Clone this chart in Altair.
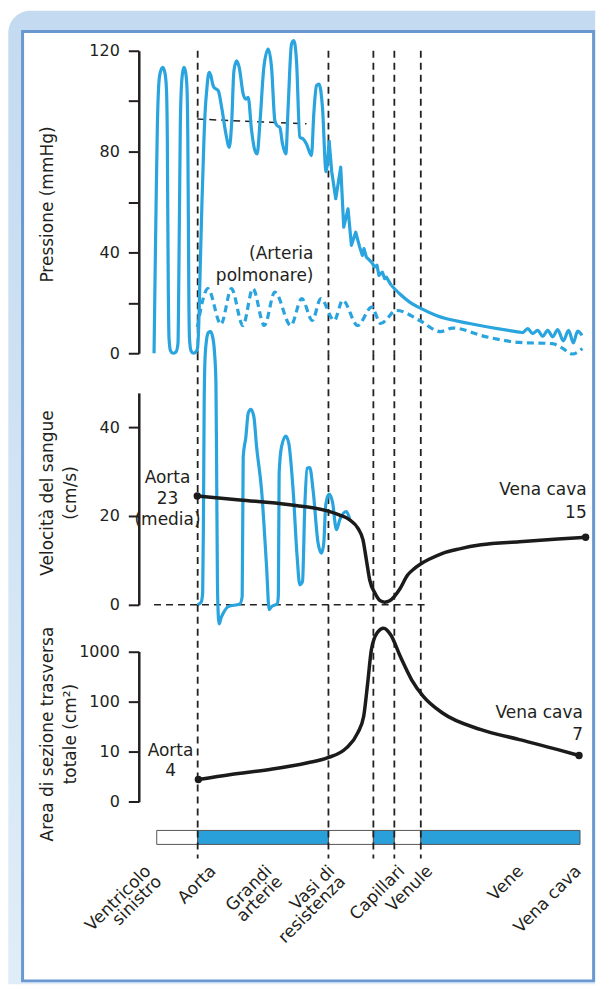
import json
import altair as alt
import pandas as pd

FONT = "DejaVu Sans"
INK = "#231f20"
BLUE = "#29a4de"
BLACK = "#1b1b1b"

# ---------------- data (x = schematic position along the circulation) ----------------
BOUNDARIES = [11.8, 38.0, 47.0, 51.2, 56.5]  # Aorta | Vasi di resistenza | Capillari | | Venule

SEG_START = [3.6, 11.8, 38.0, 47.0, 51.2, 56.5]
SEG_END = [11.8, 38.0, 47.0, 51.2, 56.5, 88.4]
SEG_KIND = ["vuoto", "pieno", "vuoto", "pieno", "vuoto", "pieno"]

CATEGORY_LABELS = [["Ventricolo", "sinistro"], ["Aorta"], ["Grandi", "arterie"],
                   ["Vasi di", "resistenza"], ["Capillari"], ["Venule"], ["Vene"], ["Vena cava"]]
CATEGORY_POS = [0.7, 13.7, 24.9, 37.5, 51.5, 57.1, 75.3, 86.9]

# Pressure, systemic (left ventricle -> vena cava), mmHg
P_U = [3.06, 3.26, 3.46, 3.72, 3.96, 4.26, 4.80, 5.26, 5.54, 5.72, 5.80, 5.92, 6.06, 6.36,
       6.86, 7.46, 7.86,
       8.02, 8.16, 8.32, 8.52, 8.76, 9.06, 9.42, 9.66, 9.82, 9.92, 10.02, 10.16, 10.46,
       10.96, 11.46, 11.76, 11.96,
       12.26, 12.66, 13.06, 13.36, 13.60, 13.86, 14.12,
       14.46, 14.80, 15.06, 15.92, 16.60, 17.46, 18.12, 18.60, 19.06, 19.60, 20.12, 20.92, 21.46,
       21.92, 22.60, 23.26, 23.72, 24.26, 25.06, 25.92, 26.60, 27.26, 27.72, 28.26, 28.80, 29.46,
       29.92, 30.60, 31.06, 31.60, 32.26, 32.92, 33.60, 34.60, 35.06, 35.60, 36.12, 36.80, 37.52,
       38.12, 38.66, 39.46, 40.46, 41.06, 41.92, 42.60, 43.46, 44.26, 44.80, 45.12, 45.60, 46.60,
       47.26, 47.72, 48.12, 48.80, 49.26, 49.60, 50.60, 52.26, 54.26, 56.60, 59.60, 66.26, 76.26,
       76.92, 77.92, 78.92, 79.92, 80.92, 81.92, 82.92, 83.92, 85.06, 86.12, 87.06, 87.92, 88.80]
P_MMHG = [0, 30, 58, 90, 105, 111, 113.4, 111, 105, 85, 58, 25, 6, 1,
          0, 0.5, 4,
          30, 58, 90, 105, 111, 113.4, 111, 105, 86, 58, 25, 6, 1,
          0, 0.5, 2, 8,
          30, 60, 85, 98, 104, 109.5, 111.4,
          110, 106.8, 105.5, 104.2, 97.6, 87, 81.7, 91, 112, 116, 113.4, 102.8, 100.8,
          101.5, 88.3, 80.4, 79.1, 91, 113.4, 120.7, 113.4, 92.3, 90.3, 89.6, 83, 79.1,
          97.5, 122.7, 124, 116, 85.7, 85, 83, 78.4, 94.9, 106.1, 106.8, 97.5, 72,
          84.4, 72, 61.3, 73.8, 50, 57.3, 42.8, 48, 42.1, 38.8, 41.5, 38.1, 36.2,
          34.2, 34.9, 30.9, 32.2, 29.6, 30.2, 26.9, 23.6, 20.3, 17.7, 15, 11.8, 8.4,
          8.2, 9.8, 7.8, 9.1, 6.7, 9.1, 6.5, 9.4, 4.9, 9.1, 4.1, 8.8, 7.1]
# stretch with sharp (saw-tooth) pulses: resistance vessels -> capillaries
JAGGED_FROM, JAGGED_TO = 38.12, 50.60

# Mean aortic pressure (dashed)
MEAN_U = [11.72, 33.6]
MEAN_MMHG = [92.9, 91.0]

# Pulmonary artery pressure (dashed)
PA_U = [11.72, 13.86, 16.46, 18.56, 20.86, 22.86, 25.16, 27.26, 30.46, 32.66, 34.76, 36.46,
        39.16, 40.86, 43.86, 46.66, 48.46, 51.66, 56.26, 60.46, 62.86, 69.66, 76.26, 82.86,
        84.86, 86.86, 88.86]
PA_MMHG = [10.4, 25.6, 11.5, 25.6, 11.0, 25.6, 11.0, 24.3, 11.0, 21.7, 13.0, 21.7,
           13.0, 21.0, 11.0, 18.3, 11.8, 17.0, 13.0, 8.6, 10.0, 6.5, 4.3, 3.8,
           2.0, -0.3, 1.9]

# Pulsatile blood velocity (blue), cm/s
VB_U = [11.76, 12.46, 12.80, 12.96, 13.10, 13.26, 13.56, 13.96, 14.36, 14.76, 15.16, 15.46,
        15.60, 15.76, 15.96, 16.12, 16.46, 16.92, 17.92, 20.26, 20.72, 20.92, 21.46, 21.92,
        22.46, 23.06, 23.60, 24.60, 25.60, 26.12, 26.60, 27.72, 27.96, 28.12, 28.60, 29.46,
        30.06, 30.92, 31.72, 32.26, 32.80, 33.26, 33.72, 34.26, 34.92, 35.92, 36.60, 37.06,
        37.46, 38.12, 38.80, 39.60, 40.26, 41.60, 42.26]
VB_CMS = [0, 0.5, 2.6, 20, 45, 55, 59.5, 61.3, 61.5, 60.5, 57, 50,
          30, 5, -3, -4.3, -3, -1.9, -0.4, 0.2, 1.9, 33.3, 37.8, 43.1,
          44.0, 42.3, 35.6, 25.8, 8.6, -1.1, -0.4, 0.2, 2.0, 29.6, 35.6, 38.0,
          36.3, 25.8, 10.9, 4.5, 5.2, 22.1, 30.7, 30.9, 25.8, 13.9, 11.6, 13.9,
          22.5, 24.9, 23.2, 16.9, 19.1, 21.0, 19.3]

# Mean blood velocity (black), cm/s
VK_U = [11.72, 20.26, 30.26, 37.60, 40.26, 42.26, 43.92, 44.92, 45.60, 46.26, 47.38, 48.26,
        49.26, 50.26, 51.22, 52.26, 53.86, 55.26, 56.46, 58.26, 60.86, 64.26, 68.56, 76.26,
        83.96, 89.52]
VK_CMS = [24.5, 23.6, 22.5, 21.2, 20.2, 19.1, 17.2, 14.6, 10.1, 5.6, 2.5, 1.0,
          0.6, 0.9, 1.9, 3.5, 6.7, 8.2, 9.2, 10.3, 11.6, 12.6, 13.5, 14.2,
          14.8, 15.2]

ZERO_U = [3.06, 57.8]
ZERO_CMS = [0, 0]

# Total cross-sectional area, cm2
AR_U = [11.94, 18.46, 26.18, 33.86, 37.74, 41.60, 43.86, 45.06, 45.86, 46.60, 47.76, 49.06,
        50.46, 52.38, 54.66, 57.00, 60.86, 68.56, 76.26, 83.96, 88.20]
AR_CM2 = [2.78, 3.5, 4.4, 6.0, 7.5, 11.9, 23.7, 50.8, 235, 1080, 2350, 2900,
          2150, 800, 272, 127, 59, 27.5, 17.4, 11.0, 8.4]

# Annotations
P_NOTE = ["(Arteria\npolmonare)"]
P_NOTE_U = [35.0]
P_NOTE_MMHG = [37.2]

V_NOTE_L = ["Aorta\n23\n(media)"]
V_NOTE_L_U = [5.76]
V_NOTE_L_CMS = [27.4]
V_NOTE_R = ["Vena cava\n15"]
V_NOTE_R_U = [89.74]
V_NOTE_R_CMS = [24.7]

A_NOTE_L = ["Aorta\n4"]
A_NOTE_L_U = [6.36]
A_NOTE_L_CM2 = [8.1]
A_NOTE_R = ["Vena cava\n7"]
A_NOTE_R_U = [88.98]
A_NOTE_R_CM2 = [47.8]

# ---------------- frames ----------------
bounds_df = pd.DataFrame({"pos": BOUNDARIES})
p_df = pd.DataFrame({"u": P_U, "p": P_MMHG})
p_smooth_a = p_df[p_df.u <= JAGGED_FROM]
p_jagged = p_df[(p_df.u >= JAGGED_FROM) & (p_df.u <= JAGGED_TO)]
p_smooth_b = p_df[p_df.u >= JAGGED_TO]
mean_df = pd.DataFrame({"u": MEAN_U, "p": MEAN_MMHG})
pa_df = pd.DataFrame({"u": PA_U, "p": PA_MMHG})
vb_df = pd.DataFrame({"u": VB_U, "v": VB_CMS})
vk_df = pd.DataFrame({"u": VK_U, "v": VK_CMS})
zero_df = pd.DataFrame({"u": ZERO_U, "v": ZERO_CMS})
ar_df = pd.DataFrame({"u": AR_U, "a": AR_CM2})
seg_df = pd.DataFrame({"s": SEG_START, "e": SEG_END, "kind": SEG_KIND,
                       "y0": [1] * len(SEG_START), "y1": [2] * len(SEG_START)})
one = pd.DataFrame({"k": [0]})

W = 450
x_scale = alt.Scale(domain=[0, 90], nice=False, zero=False)

axis_common = dict(domainColor=INK, domainWidth=2.5, tickColor=INK, tickWidth=2, tickSize=10.5,
                   labelFontSize=16, labelColor=INK, labelPadding=9, labelFont=FONT, grid=False,
                   titleFont=FONT, titleFontSize=17, titleFontWeight="normal", titleColor=INK,
                   titleAngle=270, titleAlign="center", titleBaseline="top", titleLineHeight=23,
                   titleX=-99.3, zindex=1)

axisP = alt.Axis(values=[0, 20, 40, 60, 80, 100, 120],
                 labelExpr="datum.value % 40 == 0 ? datum.label : ''",
                 title="Pressione (mmHg)", titleY=153.5, **axis_common)
axisV = alt.Axis(values=[0, 20, 40], title=["Velocità del sangue", "(cm/s)"], titleY=139.5,
                 **axis_common)
axisA = alt.Axis(values=[1, 10, 100, 1000],
                 labelExpr="datum.value == 1 ? '0' : format(datum.value, 'd')",
                 title=["Area di sezione trasversa", "totale (cm²)"], titleY=129,
                 **axis_common)

label_expr = " : ".join(f"datum.value == {p} ? {json.dumps(l)}"
                        for p, l in zip(CATEGORY_POS, CATEGORY_LABELS)) + " : ''"
axisB = alt.Axis(values=CATEGORY_POS, labelExpr=label_expr, labelAngle=315, labelAlign="right",
                 labelBaseline="top", labelPadding=4, ticks=False, tickSize=0, domain=False,
                 grid=False, labelFont=FONT, labelFontSize=17, labelColor=INK,
                 labelLineHeight=15, labelFlush=False, labelOverlap=False, title=None)

xN = lambda f: alt.X(f"{f}:Q", scale=x_scale, axis=None)
yP = alt.Y("p:Q", scale=alt.Scale(domain=[0, 120], nice=False, zero=False), axis=axisP)
yV = alt.Y("v:Q", scale=alt.Scale(domain=[0, 47.7], range=[252, 39.7], nice=False, zero=False),
           axis=axisV)
yA = alt.Y("a:Q", scale=alt.Scale(type="log", domain=[1, 1000], range=[197.3, 46.7], nice=False),
           axis=axisA)


def rules(axis_x=None):
    return alt.Chart(bounds_df).mark_rule(strokeDash=[7, 5], strokeWidth=1.8, color="#222").encode(
        x=alt.X("pos:Q", scale=x_scale, axis=axis_x))


def note(texts, us, ys, field, ydef, align, lh):
    df = pd.DataFrame({"t": texts, "u": us, field: ys})
    return alt.Chart(df).mark_text(align=align, baseline="alphabetic", lineBreak="\n",
                                   fontSize=17, lineHeight=lh, font=FONT, color=INK).encode(
        x=xN("u"), y=ydef, text="t:N")


# decorative frame (light blue page + bordered white panel); the page is 588 px wide at most
gradient = alt.Gradient(gradient="linear",
                        stops=[alt.GradientStop(color="#c3daf0", offset=0),
                               alt.GradientStop(color="#e0edf8", offset=1)],
                        x1=0, x2=0, y1=0, y2=1)
outer = alt.Chart(one).mark_rect(fill=gradient, cornerRadiusTopLeft=22).encode(
    x=alt.value(-130.7), x2=alt.value(457.2), y=alt.value(-40), y2=alt.value(935))
inner = alt.Chart(one).mark_rect(fill="white", stroke="#6b98d1", strokeWidth=3).encode(
    x=alt.value(-116.4), x2=alt.value(455.6), y=alt.value(-19.3), y2=alt.value(931.7))

# ---------------- panel 1: pressure ----------------
def pline(df, interp):
    return alt.Chart(df).mark_line(color=BLUE, strokeWidth=3.2, interpolate=interp,
                                   strokeJoin="round").encode(x=xN("u"), y=yP)


pulm = alt.Chart(pa_df).mark_line(color=BLUE, strokeWidth=3.2, strokeDash=[7, 4.5],
                                  interpolate="monotone").encode(x=xN("u"), y=yP)
mean = alt.Chart(mean_df).mark_line(color="#222", strokeWidth=1.5, strokeDash=[7, 5]).encode(
    x=xN("u"), y=yP)
panelP = alt.layer(outer, inner, rules(), mean, pulm,
                   pline(p_smooth_a, "monotone"), pline(p_jagged, "linear"),
                   pline(p_smooth_b, "monotone"),
                   note(P_NOTE, P_NOTE_U, P_NOTE_MMHG, "p", yP, "right", 22)
                   ).properties(width=W, height=303)

# ---------------- panel 2: velocity ----------------
zero = alt.Chart(zero_df).mark_line(color="#222", strokeWidth=1.5, strokeDash=[7, 5]).encode(
    x=xN("u"), y=yV)
vblue = alt.Chart(vb_df).mark_line(color=BLUE, strokeWidth=3.2, interpolate="monotone").encode(
    x=xN("u"), y=yV)
vblack = alt.Chart(vk_df).mark_line(color=BLACK, strokeWidth=3.5, interpolate="monotone").encode(
    x=xN("u"), y=yV)
vdots = alt.Chart(vk_df.iloc[[0, -1]]).mark_circle(size=55, color=BLACK, opacity=1).encode(
    x=xN("u"), y=yV)
panelV = alt.layer(rules(), zero, vblue, vblack, vdots,
                   note(V_NOTE_L, V_NOTE_L_U, V_NOTE_L_CMS, "v", yV, "center", 21),
                   note(V_NOTE_R, V_NOTE_R_U, V_NOTE_R_CMS, "v", yV, "right", 23)
                   ).properties(width=W, height=252)

# ---------------- panel 3: cross-sectional area ----------------
aline = alt.Chart(ar_df).mark_line(color=BLACK, strokeWidth=3.5, interpolate="monotone").encode(
    x=xN("u"), y=yA)
adots = alt.Chart(ar_df.iloc[[0, -1]]).mark_circle(size=55, color=BLACK, opacity=1).encode(
    x=xN("u"), y=yA)
panelA = alt.layer(rules(), aline, adots,
                   note(A_NOTE_L, A_NOTE_L_U, A_NOTE_L_CM2, "a", yA, "center", 20),
                   note(A_NOTE_R, A_NOTE_R_U, A_NOTE_R_CM2, "a", yA, "right", 22)
                   ).properties(width=W, height=226)

# ---------------- panel 4: vessel strip + category labels ----------------
strip = alt.Chart(seg_df).mark_rect(stroke="#555", strokeWidth=1).encode(
    x=alt.X("s:Q", scale=x_scale, axis=axisB), x2="e:Q",
    y=alt.Y("y0:Q", scale=alt.Scale(domain=[0, 2], nice=False), axis=None), y2="y1:Q",
    fill=alt.Fill("kind:N", scale=alt.Scale(domain=["pieno", "vuoto"], range=["#2aa0da", "white"]),
                  legend=None))
panelB = alt.layer(strip, rules(axisB)).properties(width=W, height=28)

chart = alt.vconcat(panelP, panelV, panelA, panelB, spacing=0, bounds="flush").resolve_scale(
    x="independent", y="independent").properties(
    padding={"left": 0, "top": 2, "right": 0, "bottom": 0}).configure_view(stroke=None)

chart.save("out.html", embed_options={"renderer": "svg", "actions": False})
